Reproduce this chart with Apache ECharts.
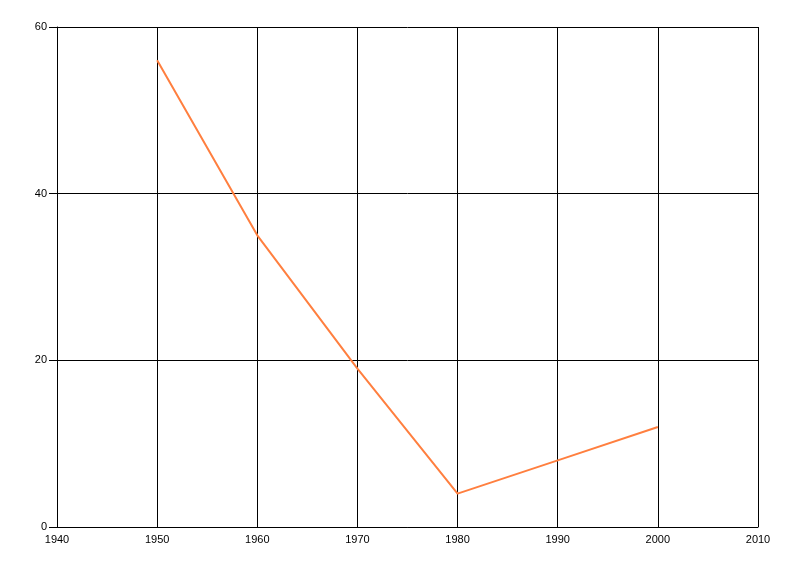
<!DOCTYPE html>
<html>
<head>
<meta charset="utf-8">
<script src="https://cdn.jsdelivr.net/npm/echarts@6/dist/echarts.min.js"></script>
<style>html,body{margin:0;padding:0;background:#fff}#c{width:800px;height:576px}</style>
</head>
<body>
<div id="c"></div>
<script>
const years = [1950, 1960, 1970, 1980, 1990, 2000];
const values = [56, 35, 19, 4, 8, 12];

const chart = echarts.init(document.getElementById('c'), null, {renderer: 'canvas'});
const axisFont = {fontFamily: 'Liberation Sans', fontSize: 11, color: '#000'};
chart.setOption({
  animation: false,
  grid: {left: 57, right: 42, top: 27, bottom: 49, containLabel: false},
  xAxis: {
    type: 'value', min: 1940, max: 2010, interval: 10,
    axisLine: {show: true, lineStyle: {color: '#000', width: 1}},
    axisTick: {show: false},
    axisLabel: Object.assign({margin: 7, formatter: v => String(v)}, axisFont),
    splitLine: {show: true, lineStyle: {color: '#000', width: 1}}
  },
  yAxis: {
    type: 'value', min: 0, max: 60, interval: 20,
    axisLine: {show: true, lineStyle: {color: '#000', width: 1}},
    axisTick: {show: true, length: 8, lineStyle: {color: '#000'}},
    axisLabel: Object.assign({margin: 10}, axisFont),
    splitLine: {show: true, lineStyle: {color: '#000', width: 1}}
  },
  series: [{
    type: 'line',
    data: years.map((y, i) => [y, values[i]]),
    showSymbol: false,
    lineStyle: {color: '#FF7F3F', width: 2},
    itemStyle: {color: '#FF7F3F'}
  }]
});
</script>
</body>
</html>
